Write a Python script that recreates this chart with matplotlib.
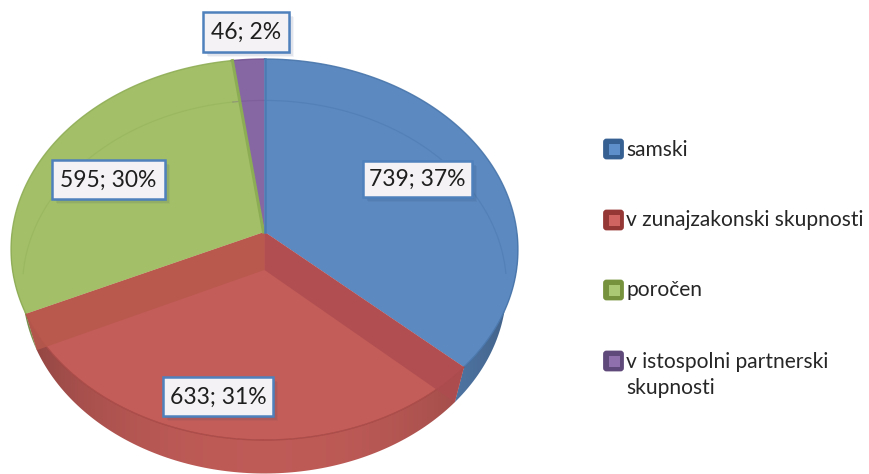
import numpy as np
import matplotlib
matplotlib.use('Agg')
import matplotlib.pyplot as plt
from matplotlib.patches import Polygon, Rectangle, FancyBboxPatch

plt.rcParams['font.family'] = ['Lato', 'DejaVu Sans']

# data
kategorije = ['samski', 'v zunajzakonski skupnosti', 'poročen', 'v istospolni partnerski\nskupnosti']
vrednosti = [739, 633, 595, 46]

# colours per slice
barve = ['#5C89BF', '#C35D59', '#A3C068', '#8767A3']
robovi = ['#4472A8', '#A54542', '#8CAB52', '#6F4F8E']
leg_temne = ['#376092', '#953735', '#76923C', '#5F497A']
leg_svetle = ['#5F8FCB', '#CF6460', '#ABC874', '#8F70AC']

# layout in pixels
zg = dict(cx=264.5, cy=232, a=252.4, b=188.9, k=0.0919)
sp = dict(cx=264.5, cy=270, a=241, b=185, k=0.0909)
label_box = [(363, 161, 109, 36), (163, 377, 110, 39), (52, 160, 113, 39), (203, 12, 86, 40)]
leg_y = [149, 220, 290, 361]


def proj(th, cx, cy, a, b, k):
    # angle clockwise from the top, pie plane -> picture with some perspective
    u, v = np.sin(th), np.cos(th)
    return cx + a * u / (1 + k * v), cy - b * v / (1 + k * v)


def arc(t1, t2, par, n=120):
    x, y = proj(np.linspace(t1, t2, n), **par)
    return np.column_stack([x, y])


fig = plt.figure(figsize=(8.69, 4.74), dpi=100)
ax = fig.add_axes([0, 0, 1, 1])

meje = np.concatenate([[0], np.cumsum(vrednosti)]) / sum(vrednosti) * 2 * np.pi

# outer wall, only the front part is seen, gradient darker to the sides
for i in range(len(vrednosti)):
    t1, t2 = max(meje[i], np.pi / 2), min(meje[i + 1], 1.5 * np.pi)
    if t2 <= t1:
        continue
    pts = np.vstack([arc(t1, t2, zg), arc(t2, t1, sp)])
    xs = np.linspace(0, 869, 870)
    u = np.clip((xs - sp['cx']) / zg['a'], -1, 1)
    senca = 0.64 + 0.34 * (1 - u ** 2) ** 0.6
    rgb = np.array(matplotlib.colors.to_rgb(barve[i]))
    slika = (senca[:, None] * rgb)[None, :, :]
    im = ax.imshow(slika, extent=(0, 869, 474, 0), aspect='auto', zorder=1, interpolation='bilinear')
    im.set_clip_path(Polygon(pts, closed=True, transform=ax.transData))

ax.set_xlim(0, 869)
ax.set_ylim(474, 0)
ax.axis('off')

# top face
sredisce = (zg['cx'], zg['cy'])
for i in range(len(vrednosti)):
    pts = np.vstack([[sredisce], arc(meje[i], meje[i + 1], zg)])
    ax.add_patch(Polygon(pts, closed=True, fc=barve[i], ec='none', zorder=2))
    rob = arc(meje[i], meje[i + 1], zg)
    ax.plot(rob[:, 0], rob[:, 1], color=robovi[i], lw=1.0, alpha=0.85, zorder=3)

# back of the bottom face shows through the top
for i in range(len(vrednosti)):
    t = np.linspace(meje[i], meje[i + 1], 200)
    t = t[np.cos(t) > -0.02]
    if len(t) > 1:
        x, y = proj(t, **sp)
        ax.plot(x, y, color=robovi[i], lw=0.9, alpha=0.35, zorder=3)

# inner walls seen through the red slice
sred_sp = (sp['cx'], sp['cy'])
x1, y1 = proj(meje[1], **zg)
x2, y2 = proj(meje[1], **sp)
ax.add_patch(Polygon([sredisce, (x1, y1), (x2, y2), sred_sp], closed=True,
                     fc='#AE4C50', ec='none', alpha=0.85, zorder=4))
x1, y1 = proj(meje[2], **zg)
x2, y2 = proj(meje[2], **sp)
ax.add_patch(Polygon([sredisce, (x1, y1), (x2, y2), sred_sp], closed=True,
                     fc='#B8584C', ec='none', alpha=0.85, zorder=4))

# thin walls on the back edges
x1, y1 = proj(meje[3], **zg)
ax.plot([sredisce[0] - 1, x1 + 1], [sredisce[1], y1], color='#8DAD55', lw=2.2, zorder=4)
ax.plot([sredisce[0] + 0.5, sredisce[0] + 0.5], [sredisce[1], zg['cy'] - zg['b'] / (1 + zg['k'])],
        color='#4C7BB4', lw=1.8, zorder=4)

# data labels
skupaj = sum(vrednosti)
for v, (x, y, w, h) in zip(vrednosti, label_box):
    for off, al in [(6, 0.05), (4.5, 0.08), (3, 0.12)]:
        ax.add_patch(Rectangle((x + off - 1, y + off - 1), w, h, fc='#1F3864', ec='none', alpha=al, zorder=5))
    ax.add_patch(Rectangle((x, y), w, h, fc='#F4F2F4', ec='#4F81BD', lw=1.8, zorder=6))
    ax.text(x + w / 2, y + h / 2 + 0.5, f'{v}; {round(100 * v / skupaj)}%', ha='center', va='center',
            fontsize=16.5, color='#1E1E1E', zorder=7)

# legend
for ime, y, tem, svet in zip(kategorije, leg_y, leg_temne, leg_svetle):
    ax.add_patch(FancyBboxPatch((604.5, y - 9), 18, 18, boxstyle='round,pad=0,rounding_size=2',
                                fc=tem, ec=tem, lw=2, zorder=5))
    ax.add_patch(Rectangle((608.5, y - 5.5), 11, 11, fc=svet, ec='none', zorder=6))
    ax.text(626, y - 9.5, ime, ha='left', va='top', fontsize=15.1, color='#262626', linespacing=1.38, zorder=6)

fig.savefig('out.png', dpi=100)
